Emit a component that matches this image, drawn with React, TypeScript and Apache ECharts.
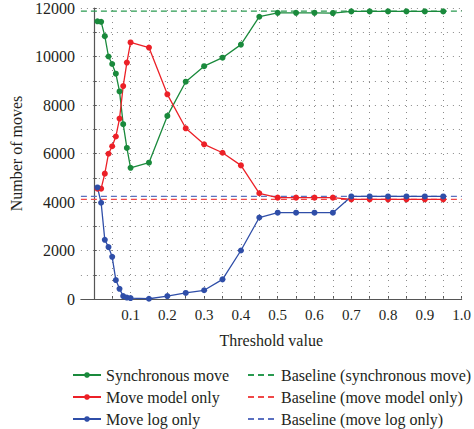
import React, { useEffect, useRef } from "react";
import * as echarts from "echarts";

// Threshold values on the x axis
const thresholds = [
  0.01, 0.02, 0.03, 0.04, 0.05, 0.06, 0.07, 0.08, 0.09, 0.1,
  0.15, 0.2, 0.25, 0.3, 0.35, 0.4, 0.45, 0.5, 0.55, 0.6, 0.65,
  0.7, 0.75, 0.8, 0.85, 0.9, 0.95,
];

const synchronousMove = [
  11450, 11430, 10840, 10000, 9690, 9290, 8560, 7210, 6230, 5410,
  5620, 7550, 8960, 9600, 9950, 10490, 11640, 11800, 11800, 11800, 11790,
  11860, 11860, 11860, 11860, 11860, 11860,
];

const moveModelOnly = [
  4550, 4550, 5170, 5990, 6300, 6700, 7440, 8780, 9750, 10580,
  10370, 8440, 7040, 6380, 6030, 5510, 4360, 4180, 4180, 4180, 4180,
  4110, 4110, 4110, 4110, 4110, 4110,
];

const moveLogOnly = [
  4600, 3970, 2440, 2140, 1740, 780, 420, 120, 60, 40,
  10, 120, 250, 360, 810, 2000, 3360, 3560, 3560, 3560, 3560,
  4230, 4230, 4230, 4230, 4230, 4230,
];

// Reference levels drawn as dashed lines
const baselineSync = 11870;
const baselineModel = 4110;
const baselineLog = 4230;

const xTickValues = [
  0.05, 0.1, 0.15, 0.2, 0.25, 0.3, 0.35, 0.4, 0.45, 0.5,
  0.55, 0.6, 0.65, 0.7, 0.75, 0.8, 0.85, 0.9, 0.95, 1.0,
];
const xLabelValues = [0.1, 0.2, 0.3, 0.4, 0.5, 0.6, 0.7, 0.8, 0.9, 1.0];

const seriesNames = ["Synchronous move", "Move model only", "Move log only"];
const baselineNames = [
  "Baseline (synchronous move)",
  "Baseline (move model only)",
  "Baseline (move log only)",
];

const X_MIN = -0.035;
const X_MAX = 1.0;

const GREEN = "#1a8a3c";
const RED = "#ec2027";
const BLUE = "#2f4ea8";
const GREEN_DASH = "#2a9a50";
const RED_DASH = "#f04848";
const BLUE_DASH = "#5a70c0";

const FONT = "Liberation Serif";
const TEXT = "#231f20";

export default function App() {
  const ref = useRef<HTMLDivElement>(null);

  useEffect(() => {
    if (!ref.current) return;
    const chart = echarts.init(ref.current, undefined, { renderer: "svg" });

    const pair = (ys: number[]) => thresholds.map((x, i) => [x, ys[i]]);
    const flat = (v: number) => [
      [X_MIN, v],
      [X_MAX, v],
    ];

    const dataSeries = (name: string, ys: number[], color: string) => ({
      name,
      type: "line",
      data: pair(ys),
      symbol: "circle",
      symbolSize: 6,
      showSymbol: true,
      lineStyle: { color, width: 1.3 },
      itemStyle: { color },
      emphasis: { disabled: true },
      z: 3,
    });

    const baseSeries = (name: string, v: number, color: string, extra: any = {}) => ({
      name,
      type: "line",
      data: flat(v),
      symbol: "none",
      lineStyle: { color, width: 1.3, type: [6, 4] },
      itemStyle: { color },
      emphasis: { disabled: true },
      z: 2,
      ...extra,
    });

    // one legend entry per block so both columns line up exactly
    const rowTops = [367, 389, 411];
    const legendEntry = (name: string, left: number, top: number, hideDot = false) => ({
      left,
      top,
      itemWidth: 28,
      itemHeight: 7,
      itemGap: 0,
      padding: 0,
      selectedMode: false,
      itemStyle: hideDot ? { opacity: 0 } : {},
      textStyle: { fontFamily: FONT, fontSize: 16, color: TEXT, padding: [0, 0, 0, 0] },
      data: [name],
    });

    chart.setOption({
      animation: false,
      backgroundColor: "#ffffff",
      textStyle: { fontFamily: FONT },
      grid: { left: 72, right: 9, top: 7, bottom: 130 },
      xAxis: {
        type: "value",
        min: X_MIN,
        max: X_MAX,
        name: "Threshold value",
        nameLocation: "middle",
        nameGap: 33,
        nameTextStyle: { fontFamily: FONT, fontSize: 16, color: TEXT },
        axisLine: { show: true, lineStyle: { color: "#555555", width: 1.2 } },
        axisTick: {
          show: true,
          inside: true,
          length: 3,
          customValues: xTickValues,
          lineStyle: { color: "#555555" },
        },
        axisLabel: {
          customValues: xLabelValues,
          formatter: (v: number) => v.toFixed(1),
          fontFamily: FONT,
          fontSize: 15,
          color: TEXT,
          margin: 8,
        },
        splitLine: { show: false },
      },
      yAxis: {
        type: "value",
        min: 0,
        max: 12000,
        interval: 1000,
        name: "Number of moves",
        nameLocation: "middle",
        nameGap: 50,
        nameTextStyle: { fontFamily: FONT, fontSize: 16, color: TEXT },
        axisLine: { show: true, lineStyle: { color: "#555555", width: 1.2 } },
        axisTick: { show: true, inside: true, length: 3, lineStyle: { color: "#555555" } },
        axisLabel: {
          formatter: (v: number) => (v % 2000 === 0 ? String(v) : ""),
          fontFamily: FONT,
          fontSize: 16,
          color: TEXT,
          margin: 6,
        },
        splitLine: {
          show: true,
          lineStyle: { color: "#8a8a8a", width: 1, type: [1, 5] },
        },
      },
      legend: [
        ...seriesNames.map((n, i) => legendEntry(n, 72, rowTops[i])),
        ...baselineNames.map((n, i) => legendEntry(n, 247, rowTops[i], true)),
      ],
      series: [
        baseSeries(baselineNames[0], baselineSync, GREEN_DASH, {
          // dotted vertical grid lines every 0.05
          markLine: {
            silent: true,
            symbol: "none",
            label: { show: false },
            lineStyle: { color: "#8a8a8a", width: 1, type: [1, 5] },
            emphasis: { disabled: true },
            data: xTickValues.map((x) => ({ xAxis: x })),
            z: 1,
          },
        }),
        baseSeries(baselineNames[1], baselineModel, RED_DASH),
        baseSeries(baselineNames[2], baselineLog, BLUE_DASH),
        dataSeries(seriesNames[0], synchronousMove, GREEN),
        dataSeries(seriesNames[1], moveModelOnly, RED),
        dataSeries(seriesNames[2], moveLogOnly, BLUE),
      ],
    });

    return () => chart.dispose();
  }, []);

  return <div ref={ref} style={{ width: 474, height: 429, position: "absolute", left: 0, top: 0 }} />;
}
